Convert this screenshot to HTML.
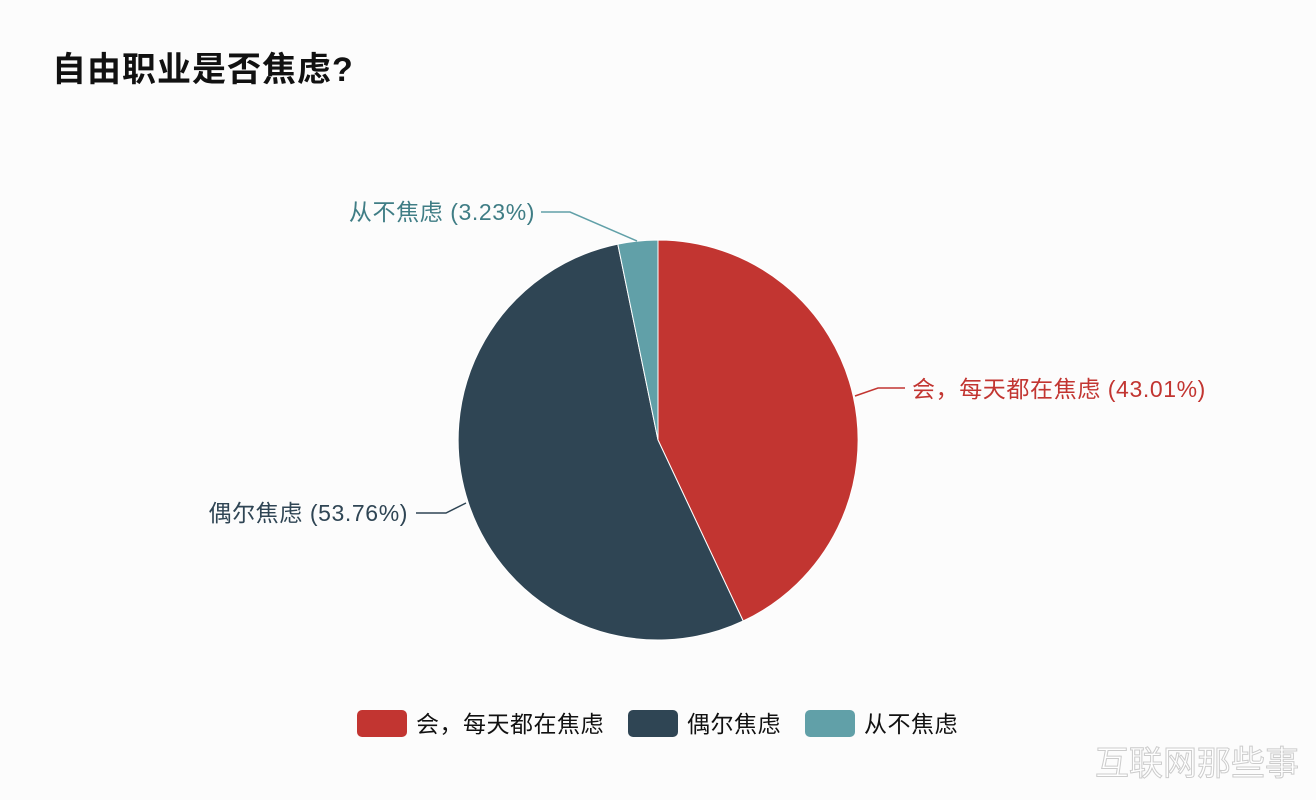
<!DOCTYPE html>
<html><head><meta charset="utf-8"><style>
body{margin:0;background:#fcfcfc;}
svg{display:block;font-family:"Liberation Sans","Noto Sans CJK SC",sans-serif;}
</style></head><body>
<svg width="1316" height="800" viewBox="0 0 1316 800">
<rect width="1316" height="800" fill="#fcfcfc"/>
<text x="52" y="81" font-size="34" font-weight="bold" fill="#111" letter-spacing="1">自由职业是否焦虑?</text>
<path d="M658,440 L658,240 A200,200 0 0 1 743.2,621 Z" fill="#c23531" stroke="#fff" stroke-width="1"/>
<path d="M658,440 L743.2,621 A200,200 0 1 1 617.8,244.1 Z" fill="#2f4554" stroke="#fff" stroke-width="1"/>
<path d="M658,440 L617.8,244.1 A200,200 0 0 1 658,240 Z" fill="#61a0a8" stroke="#fff" stroke-width="1"/>
<polyline points="855,396 878,388 905,388" fill="none" stroke="#c23531" stroke-width="1.5"/>
<text x="912" y="397" font-size="23" fill="#c23531" letter-spacing="0.6">会，每天都在焦虑 (43.01%)</text>
<polyline points="466,503 446,513 416,513" fill="none" stroke="#2f4554" stroke-width="1.5"/>
<text x="408" y="521" font-size="23" fill="#2f4554" text-anchor="end" letter-spacing="0.6">偶尔焦虑 (53.76%)</text>
<polyline points="637,241 570,212 541,212" fill="none" stroke="#61a0a8" stroke-width="1.5"/>
<text x="535" y="220" font-size="23" fill="#3f7d85" text-anchor="end" letter-spacing="0.6">从不焦虑 (3.23%)</text>
<rect x="357" y="710" width="50" height="27" rx="5" fill="#c23531"/>
<text x="416" y="732" font-size="23" fill="#111" letter-spacing="0.5">会，每天都在焦虑</text>
<rect x="628" y="710" width="50" height="27" rx="5" fill="#2f4554"/>
<text x="687" y="732" font-size="23" fill="#111" letter-spacing="0.5">偶尔焦虑</text>
<rect x="805" y="710" width="50" height="27" rx="5" fill="#61a0a8"/>
<text x="864" y="732" font-size="23" fill="#111" letter-spacing="0.5">从不焦虑</text>
<text x="1095" y="775" font-size="34" fill="#fff" stroke="#ccc" stroke-width="1">互联网那些事</text>
</svg>
</body></html>
